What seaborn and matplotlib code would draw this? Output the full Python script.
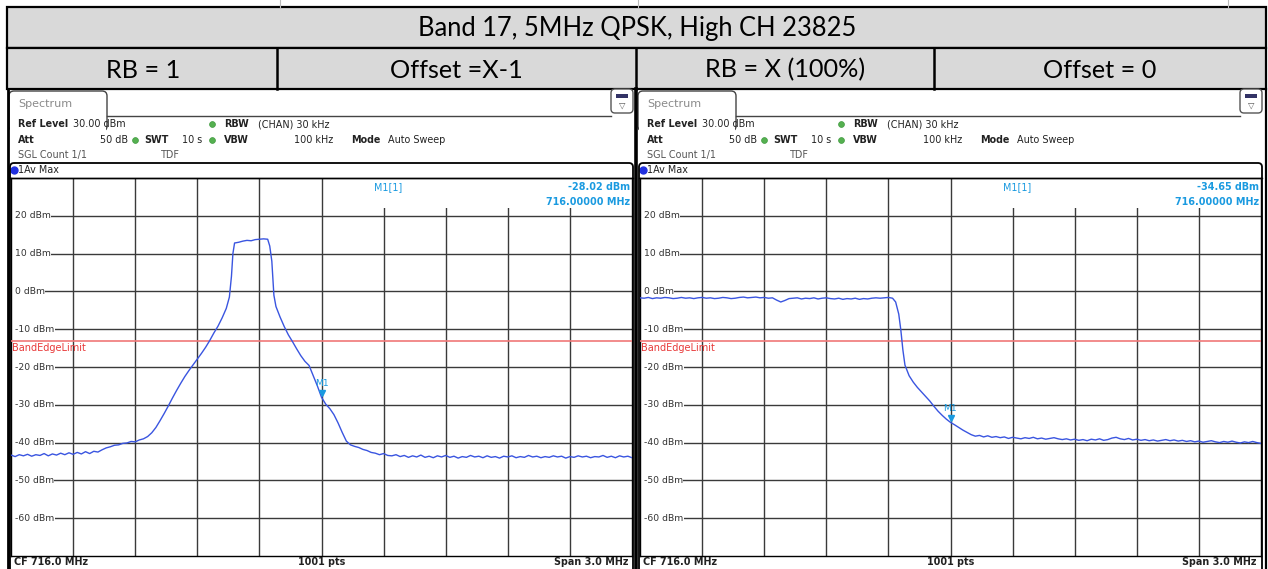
import numpy as np
import pandas as pd
import matplotlib
matplotlib.use("Agg")
import matplotlib.pyplot as plt
import matplotlib.transforms as mtransforms
from matplotlib.patches import Rectangle, FancyBboxPatch
import seaborn as sns

# ---------------- data ----------------
TITLE = "Band 17, 5MHz QPSK, High CH 23825"
SUBHEADERS = ["RB = 1", "Offset =X-1", "RB = X (100%)", "Offset = 0"]
Y_TICKS_DBM = [20, 10, 0, -10, -20, -30, -40, -50, -60]
GRID_FREQ_MHZ = [714.8, 715.1, 715.4, 715.7, 716.0, 716.3, 716.6, 716.9, 717.2]
F_START, F_STOP = 714.5, 717.5
REF_LEVEL, BOTTOM_LEVEL = 30, -70
LIMIT_DBM = -13
MARKER_FREQ = 716.0
MARKER_LEVELS = [-28.02, -34.65]
MARKER_TEXT = ["-28.02 dBm", "-34.65 dBm"]


def sweep(a, b):
    # regular 0.02 MHz frequency grid of the analyzer sweep (x axis only)
    return list(np.round(np.arange(a, b + 0.001, 0.02), 3))


# Left trace (RB = 1)
LEFT_FREQ = (sweep(714.50, 715.54)
             + [715.555, 715.565, 715.572, 715.58, 715.60, 715.62, 715.64, 715.66,
                715.68, 715.70, 715.72, 715.74, 715.75, 715.76, 715.77, 715.78]
             + sweep(715.80, 716.32) + sweep(716.34, 717.50))
LEFT_DBM = ([-43.3, -43.7, -43.2, -43.5, -43.1, -43.6, -43.2, -43.4, -42.9, -43.5,
             -43.0, -43.3, -42.8, -43.2, -42.7, -43.1, -42.6, -43.0, -42.4, -42.9,
             -42.3, -42.5,
             -41.9, -41.4, -41.1, -40.7, -40.6, -40.2, -40.1, -39.7, -39.8, -39.3,
             -39.0, -38.4, -37.4, -36.0, -34.2, -32.3, -30.3, -28.2, -26.2, -24.3,
             -22.5, -20.9, -19.4, -17.9, -16.4, -14.8, -13.0, -11.0, -9.2, -7.0, -4.5]
            + [-1.5, 4.0, 10.0, 12.8, 13.0, 13.3, 13.5, 13.4, 13.7, 13.8, 13.9, 13.8,
               12.0, 8.0, -1.0, -4.0]
            + [-6.8, -9.3, -11.5, -13.3, -15.2, -17.0, -18.5, -19.6, -22.3, -25.0,
               -28.0, -29.8, -31.0, -32.6, -34.8, -37.3, -39.6, -40.6, -41.0, -41.3,
               -41.8, -42.1, -42.6, -42.8, -43.2, -42.9, -43.4]
            + [-43.5, -43.2, -43.7, -43.4, -43.9, -43.5, -43.8, -43.3, -43.9, -43.6,
               -44.0, -43.5, -43.8, -43.4, -43.9, -43.6, -44.1, -43.7, -43.9, -43.4,
               -43.8, -43.6, -44.0, -43.5, -43.9, -43.7, -44.1, -43.6, -43.8, -43.5,
               -44.0, -43.7, -43.9, -43.4, -43.8, -43.6, -44.0, -43.7, -43.9, -43.5,
               -43.8, -43.6, -44.1, -43.7, -43.9, -43.5, -43.8, -43.6, -44.0, -43.7,
               -43.8, -43.4, -43.9, -43.6, -44.0, -43.5, -43.8, -43.6, -44.0])

# Right trace (RB = X, 100%)
RIGHT_FREQ = (sweep(714.50, 715.72)
              + [715.735, 715.75, 715.76, 715.77, 715.78]
              + sweep(715.80, 716.14) + sweep(716.16, 717.50))
RIGHT_DBM = ([-1.7, -1.8, -1.6, -1.9, -1.7, -1.8, -1.6, -1.7, -1.9, -1.8,
              -1.6, -1.8, -1.7, -1.9, -1.7, -1.6, -1.8, -1.7, -1.9, -1.8,
              -1.6, -1.7, -1.9, -1.8, -1.6, -1.5, -1.7, -1.6, -1.5, -1.7,
              -1.6, -1.8, -1.7, -2.3, -2.8, -2.4, -1.9, -1.8, -1.7, -2.0,
              -1.8, -1.9, -1.7, -2.0, -1.8, -1.7, -1.9, -2.0, -1.8, -2.1,
              -1.9, -2.0, -1.8, -2.1, -1.9, -2.0, -1.8, -1.7, -1.8, -1.7,
              -1.6, -1.8]
             + [-2.8, -6.0, -10.2, -15.5, -19.5]
             + [-22.3, -24.0, -25.4, -26.6, -27.8, -29.0, -30.4, -31.7, -32.8, -33.8,
                -34.65, -35.3, -36.0, -36.7, -37.3, -37.9, -38.3, -38.1]
             + [-38.5, -38.2, -38.6, -38.4, -38.7, -38.5, -38.9, -38.6, -38.8, -39.0,
                -38.7, -38.9, -38.6, -39.0, -38.8, -39.1, -38.9, -38.7, -39.0, -39.2,
                -39.0, -39.3, -39.1, -39.4, -39.2, -39.5, -39.1, -39.3, -39.0, -39.4,
                -39.2, -38.8, -38.6, -39.0, -39.2, -38.9, -39.3, -39.1, -39.4, -39.2,
                -39.5, -39.3, -39.6, -39.4, -39.2, -39.5, -39.3, -39.6, -39.4, -39.7,
                -39.5, -39.8, -39.6, -39.9, -39.7, -39.5, -39.8, -40.0, -39.7, -39.9,
                -39.6, -39.9, -40.1, -39.8, -40.0, -39.7, -40.0, -40.2])

assert len(LEFT_FREQ) == len(LEFT_DBM), (len(LEFT_FREQ), len(LEFT_DBM))
assert len(RIGHT_FREQ) == len(RIGHT_DBM), (len(RIGHT_FREQ), len(RIGHT_DBM))

# ---------------- style ----------------
W, H = 1268, 569
HEADER_GRAY = "#d9d9d9"
TRACE = "#3a55e0"
MARK = "#1a9ae0"
GRID = "#3a3a3a"
TXT = "#222222"
HFONT = ["Lato", "DejaVu Sans"]
SFONT = ["DejaVu Sans"]
FS = 6.9
FSL = 6.7

fig = plt.figure(figsize=(W / 100, H / 100), dpi=100)
fig.patch.set_facecolor("white")
bg = fig.add_axes([0, 0, 1, 1])
bg.set_xlim(0, W)
bg.set_ylim(H, 0)
bg.axis("off")

# header table
bg.add_patch(Rectangle((7, 7), 1259, 41, facecolor=HEADER_GRAY, edgecolor="black", lw=1.6))
bg.add_patch(Rectangle((7, 48), 1259, 41, facecolor=HEADER_GRAY, edgecolor="black", lw=1.6))
for x in [277, 636, 934]:
    bg.plot([x, x], [48, 89], color="black", lw=1.8)
for x in [280, 638, 1228]:
    bg.plot([x, x], [0, 7], color="#bbbbbb", lw=0.8)
bg.text(637, 28, TITLE, ha="center", va="center", fontsize=18.4, family=HFONT, color="black")
for (cx, s) in zip([143, 456, 785, 1100], SUBHEADERS):
    bg.text(cx, 70, s, ha="center", va="center", fontsize=18.2, family=HFONT, color="black")

panels = [
    dict(dx=0, freq=LEFT_FREQ, dbm=LEFT_DBM, mlev=MARKER_LEVELS[0], mtxt=MARKER_TEXT[0]),
    dict(dx=629, freq=RIGHT_FREQ, dbm=RIGHT_DBM, mlev=MARKER_LEVELS[1], mtxt=MARKER_TEXT[1]),
]

for p in panels:
    dx = p["dx"]
    # tab
    bg.add_patch(FancyBboxPatch((9 + dx, 91), 98, 40, boxstyle="round,pad=0,rounding_size=5",
                                facecolor="white", edgecolor="#444444", lw=1.0))
    bg.add_patch(Rectangle((10 + dx, 116.5), 96, 20, facecolor="white", edgecolor="none"))
    bg.plot([107 + dx, 611 + dx], [116, 116], color="#444444", lw=1.0)
    bg.text(18 + dx, 104, "Spectrum", ha="left", va="center", fontsize=8.0, family=SFONT, color="#8a8a8a")
    # icon
    bg.add_patch(FancyBboxPatch((611 + dx, 89), 22, 24, boxstyle="round,pad=0,rounding_size=4",
                                facecolor="white", edgecolor="#555555", lw=1.0))
    bg.add_patch(Rectangle((616 + dx, 94), 12, 4, facecolor="#333366", edgecolor="none"))
    bg.text(622 + dx, 105, "\u25BD", ha="center", va="center", fontsize=6, family=SFONT, color="#555555")
    # setting rows
    rows = [
        (124, [(18, "Ref Level", True, TXT), (73, "30.00 dBm", False, TXT),
               (224, "RBW", True, TXT), (258, "(CHAN) 30 kHz", False, TXT)]),
        (140, [(18, "Att", True, TXT), (100, "50 dB", False, TXT), (144, "SWT", True, TXT),
               (182, "10 s", False, TXT), (224, "VBW", True, TXT), (294, "100 kHz", False, TXT),
               (351, "Mode", True, TXT), (388, "Auto Sweep", False, TXT)]),
        (155, [(18, "SGL Count 1/1", False, "#555555"), (161, "TDF", False, "#555555")]),
    ]
    for y, items in rows:
        for x, s, b, c in items:
            bg.text(x + dx, y, s, ha="left", va="center", fontsize=FS, family=SFONT,
                    fontweight="bold" if b else "normal", color=c)
    for (x, y) in [(212, 124), (135, 140), (212, 140)]:
        bg.plot(x + dx, y, marker="o", ms=4.2, color="#55b050", mec="#3f9a3f", mew=0.5)
    # trace label row
    bg.plot(14 + dx, 170, marker="o", ms=5, color="#2030e0")
    bg.text(18 + dx, 170, "1Av Max", ha="left", va="center", fontsize=FS, family=SFONT, color=TXT)
    # bottom row
    bg.text(14 + dx, 562, "CF 716.0 MHz", ha="left", va="center", fontsize=FS, family=SFONT,
            fontweight="bold", color=TXT)
    bg.text(322 + dx, 562, "1001 pts", ha="center", va="center", fontsize=FS, family=SFONT,
            fontweight="bold", color=TXT)
    bg.text(628 + dx, 562, "Span 3.0 MHz", ha="right", va="center", fontsize=FS, family=SFONT,
            fontweight="bold", color=TXT)

    # plot axes
    ax = fig.add_axes([(11 + dx) / W, 1 - 556 / H, 621 / W, 378 / H])
    ax.set_xlim(F_START, F_STOP)
    ax.set_ylim(BOTTOM_LEVEL, REF_LEVEL)
    ax.set_xticks(GRID_FREQ_MHZ)
    ax.set_yticks(Y_TICKS_DBM)
    ax.tick_params(length=0, labelbottom=False, labelleft=False)
    ax.grid(True, color=GRID, lw=1.0)
    for s in ax.spines.values():
        s.set_color("black")
        s.set_linewidth(1.0)
    # white area behind the marker read-out
    ax.add_patch(Rectangle((716.04, 22.0), F_STOP - 716.04, 7.85, facecolor="white",
                           edgecolor="none", zorder=2.2))
    # gridlines start only after the level labels
    ax.add_patch(Rectangle((F_START, BOTTOM_LEVEL + 0.3), 0.014, 99.4, facecolor="white",
                           edgecolor="none", zorder=2.2))
    tr = mtransforms.blended_transform_factory(ax.transAxes, ax.transData)
    ax.axhline(LIMIT_DBM, color="#f07878", lw=1.2, zorder=3)
    ax.text(0.0015, -15.0, "BandEdgeLimit", transform=tr,
            ha="left", va="center", fontsize=FSL + 0.3, family=SFONT, color="#e83a3a", zorder=4)
    for v in Y_TICKS_DBM:
        ax.text(0.006, v, f"{v} dBm", transform=tr, ha="left", va="center", fontsize=FSL,
                family=SFONT, color="#333333", zorder=3.5,
                bbox=dict(facecolor="white", edgecolor="none", pad=0.4))
    df = pd.DataFrame({"freq": p["freq"], "dbm": p["dbm"]})
    sns.lineplot(data=df, x="freq", y="dbm", ax=ax, color=TRACE, lw=1.0,
                 estimator=None, sort=False, zorder=5)
    ax.set_xlabel("")
    ax.set_ylabel("")
    ax.plot([MARKER_FREQ], [p["mlev"] + 1.2], marker="v", ms=5, color=MARK, zorder=6, ls="none")
    ax.text(MARKER_FREQ, p["mlev"] + 3.6, "M1", ha="center", va="center", fontsize=FSL,
            family=SFONT, color=MARK, zorder=6)

# overlay: frames and marker read-out
ov = fig.add_axes([0, 0, 1, 1])
ov.set_xlim(0, W)
ov.set_ylim(H, 0)
ov.axis("off")
ov.patch.set_alpha(0)
for p in panels:
    dx = p["dx"]
    ov.add_patch(FancyBboxPatch((10 + dx, 163), 623, 420, boxstyle="round,pad=0,rounding_size=4",
                                facecolor="none", edgecolor="black", lw=1.3))
    ov.plot([10 + dx, 633 + dx], [178, 178], color="black", lw=1.0)
    ov.text(388 + dx, 187, "M1[1]", ha="center", va="center", fontsize=FS, family=SFONT, color=MARK)
    ov.text(630 + dx, 187, p["mtxt"], ha="right", va="center", fontsize=FS, family=SFONT,
            color=MARK, fontweight="bold")
    ov.text(630 + dx, 202, "716.00000 MHz", ha="right", va="center", fontsize=FS, family=SFONT,
            color=MARK, fontweight="bold")
ov.plot([7.5, 7.5], [89, H], color="black", lw=2.0)
ov.plot([636, 636], [89, H], color="black", lw=2.6)
ov.plot([1266, 1266], [89, H], color="black", lw=1.6)

fig.savefig("out.png", dpi=100)
